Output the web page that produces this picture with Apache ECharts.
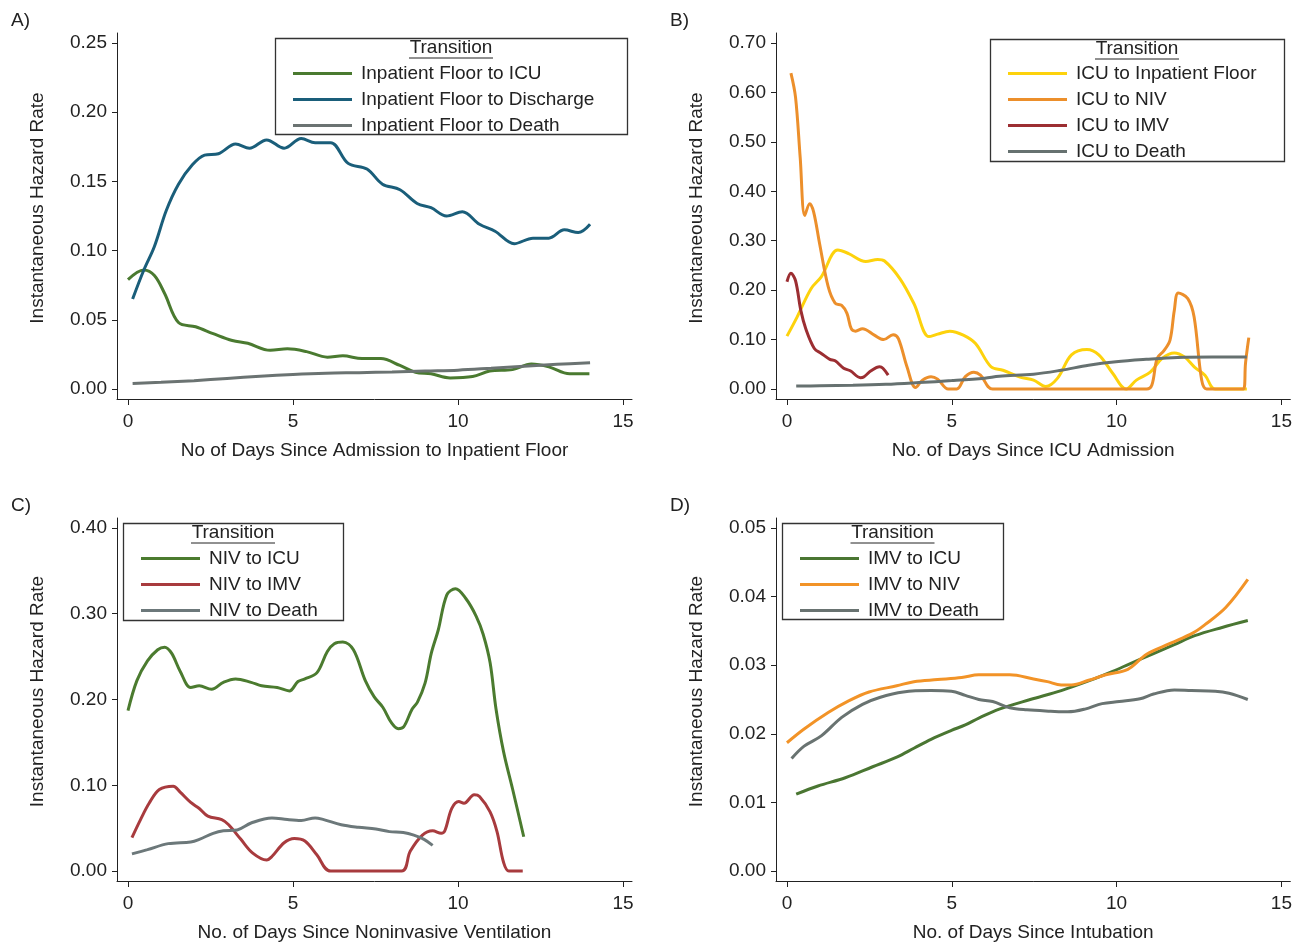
<!DOCTYPE html>
<html>
<head>
<meta charset="utf-8">
<title>Instantaneous Hazard Rates</title>
<script src="https://cdn.jsdelivr.net/npm/echarts@6.0.0/dist/echarts.min.js"></script>
<style>
html, body { margin: 0; padding: 0; background: #fff; }
#main { width: 1295px; height: 943px; }
</style>
</head>
<body>
<div id="main"></div>
<script>
// tick labels
var xTicks = [0, 5, 10, 15];
var yTicksA = [0, 0.05, 0.10, 0.15, 0.20, 0.25];
var yTicksB = [0, 0.10, 0.20, 0.30, 0.40, 0.50, 0.60, 0.70];
var yTicksC = [0, 0.10, 0.20, 0.30, 0.40];
var yTicksD = [0, 0.01, 0.02, 0.03, 0.04, 0.05];

// A) inpatient floor
var floorIcuDays = [0, 0.48, 0.8, 1.11, 1.53, 2.05, 2.58, 3.16, 3.63, 4.31, 4.83, 5.41, 6.04, 6.51, 7.09, 7.66, 8.24, 8.71, 9.18, 9.76, 10.44, 10.96, 11.65, 12.22, 12.75, 13.38, 13.98];
var floorIcuRate = [0.079, 0.086, 0.082, 0.069, 0.048, 0.045, 0.040, 0.035, 0.033, 0.028, 0.029, 0.027, 0.023, 0.024, 0.022, 0.022, 0.017, 0.012, 0.011, 0.008, 0.009, 0.013, 0.014, 0.018, 0.016, 0.011, 0.011];
var floorDischargeDays = [0.14, 0.48, 0.8, 1.16, 1.53, 1.95, 2.32, 2.74, 3.26, 3.68, 4.20, 4.73, 5.25, 5.67, 6.14, 6.67, 7.24, 7.71, 8.24, 8.76, 9.18, 9.65, 10.13, 10.65, 11.12, 11.70, 12.27, 12.75, 13.22, 13.64, 14.0];
var floorDischargeRate = [0.065, 0.086, 0.103, 0.129, 0.148, 0.162, 0.169, 0.170, 0.177, 0.174, 0.180, 0.174, 0.181, 0.178, 0.178, 0.163, 0.159, 0.148, 0.144, 0.134, 0.131, 0.125, 0.128, 0.119, 0.114, 0.105, 0.109, 0.109, 0.115, 0.113, 0.119];
var floorDeathDays = [0.14, 1, 2, 3, 4, 5, 6, 7, 8, 9, 10, 11, 12, 13, 14];
var floorDeathRate = [0.004, 0.0048, 0.006, 0.0076, 0.0092, 0.0105, 0.0114, 0.0118, 0.0123, 0.013, 0.0136, 0.015, 0.0165, 0.0178, 0.019];

// B) ICU
var icuFloorDays = [0, 0.31, 0.73, 1.04, 1.54, 1.87, 2.39, 2.75, 2.96, 3.43, 3.85, 4.31, 4.57, 4.94, 5.35, 5.72, 6.19, 6.55, 7.07, 7.48, 7.85, 8.21, 8.63, 9.10, 9.46, 9.88, 10.29, 10.6, 11.02, 11.38, 11.75, 12.06, 12.37, 12.68, 12.99, 13.95];
var icuFloorRate = [0.107, 0.146, 0.203, 0.227, 0.281, 0.274, 0.258, 0.262, 0.259, 0.223, 0.173, 0.106, 0.111, 0.117, 0.109, 0.092, 0.045, 0.038, 0.024, 0.018, 0.005, 0.022, 0.069, 0.080, 0.069, 0.032, 0.0, 0.018, 0.034, 0.062, 0.073, 0.065, 0.044, 0.028, 0.0, 0.0];
var icuNivDays = [0.12, 0.26, 0.40, 0.54, 0.69, 0.81, 0.99, 1.25, 1.46, 1.66, 1.82, 1.95, 2.08, 2.29, 2.65, 2.93, 3.22, 3.38, 3.64, 3.90, 4.11, 4.37, 4.57, 4.89, 5.15, 5.41, 5.67, 5.87, 6.24, 10.91, 11.07, 11.23, 11.43, 11.62, 11.75, 11.87, 12.16, 12.35, 12.58, 12.73, 13.85, 13.91, 14.01];
var icuNivRate = [0.639, 0.590, 0.469, 0.351, 0.375, 0.358, 0.294, 0.207, 0.174, 0.169, 0.153, 0.122, 0.117, 0.122, 0.109, 0.100, 0.110, 0.102, 0.045, 0.003, 0.018, 0.025, 0.020, 0.0, 0.0, 0.025, 0.034, 0.028, 0.0, 0.0, 0.008, 0.062, 0.077, 0.099, 0.159, 0.194, 0.183, 0.146, 0.018, 0.0, 0.0, 0.052, 0.104];
var icuImvDays = [0, 0.12, 0.26, 0.42, 0.57, 0.83, 1.04, 1.30, 1.46, 1.72, 1.92, 2.23, 2.34, 2.55, 2.81, 2.91, 3.07];
var icuImvRate = [0.217, 0.234, 0.219, 0.159, 0.122, 0.082, 0.072, 0.060, 0.057, 0.042, 0.037, 0.023, 0.025, 0.037, 0.045, 0.042, 0.028];
var icuDeathDays = [0.28, 1, 2, 3, 4, 5, 6, 6.44, 7.48, 8.32, 9.15, 9.98, 10.9, 11.85, 12.9, 13.95];
var icuDeathRate = [0.006, 0.0065, 0.0075, 0.0095, 0.013, 0.017, 0.022, 0.026, 0.030, 0.038, 0.048, 0.055, 0.060, 0.064, 0.065, 0.065];

// C) noninvasive ventilation
var nivIcuDays = [0, 0.27, 0.59, 0.90, 1.11, 1.32, 1.58, 1.90, 2.16, 2.53, 2.89, 3.26, 3.73, 4.05, 4.52, 4.89, 5.15, 5.36, 5.72, 6.04, 6.25, 6.51, 6.83, 7.19, 7.46, 7.72, 7.98, 8.19, 8.35, 8.61, 8.77, 9.0, 9.19, 9.40, 9.66, 9.92, 10.23, 10.55, 10.76, 10.97, 11.15, 11.38, 11.65, 11.99];
var nivIcuRate = [0.187, 0.222, 0.245, 0.258, 0.261, 0.254, 0.233, 0.214, 0.216, 0.212, 0.220, 0.224, 0.220, 0.216, 0.214, 0.210, 0.221, 0.224, 0.231, 0.256, 0.265, 0.267, 0.258, 0.222, 0.203, 0.191, 0.173, 0.166, 0.168, 0.189, 0.197, 0.219, 0.254, 0.281, 0.322, 0.329, 0.318, 0.297, 0.276, 0.243, 0.189, 0.139, 0.096, 0.040];
var nivImvDays = [0.12, 0.38, 0.64, 0.95, 1.37, 1.58, 1.90, 2.16, 2.42, 2.84, 3.05, 3.42, 3.78, 4.20, 4.36, 4.73, 5.04, 5.36, 5.72, 6.14, 8.29, 8.55, 8.92, 9.23, 9.49, 9.60, 9.81, 10.02, 10.18, 10.49, 10.65, 10.97, 11.18, 11.38, 11.54, 11.96];
var nivImvRate = [0.039, 0.060, 0.079, 0.095, 0.099, 0.092, 0.080, 0.073, 0.064, 0.060, 0.054, 0.037, 0.021, 0.013, 0.017, 0.033, 0.038, 0.035, 0.019, 0.0, 0.0, 0.023, 0.042, 0.047, 0.044, 0.047, 0.073, 0.081, 0.079, 0.089, 0.087, 0.069, 0.046, 0.010, 0.0, 0.0];
var nivDeathDays = [0.12, 0.59, 1.22, 1.90, 2.16, 2.58, 2.89, 3.31, 3.73, 4.36, 4.83, 5.25, 5.67, 5.93, 6.46, 6.98, 7.51, 7.92, 8.34, 8.66, 8.97, 9.23];
var nivDeathRate = [0.020, 0.025, 0.032, 0.034, 0.037, 0.044, 0.047, 0.048, 0.056, 0.062, 0.060, 0.059, 0.062, 0.060, 0.054, 0.051, 0.049, 0.046, 0.045, 0.042, 0.037, 0.030];

// D) intubation
var imvIcuDays = [0.28, 0.94, 1.77, 2.60, 3.33, 3.85, 4.37, 4.99, 5.41, 5.82, 6.44, 7.38, 8.32, 9.15, 9.88, 10.40, 11.12, 11.75, 12.37, 13.20, 13.98];
var imvIcuRate = [0.0112, 0.0124, 0.0136, 0.0152, 0.0166, 0.0179, 0.0192, 0.0205, 0.0213, 0.0223, 0.0236, 0.0250, 0.0263, 0.0277, 0.0291, 0.0302, 0.0317, 0.0330, 0.0343, 0.0355, 0.0365];
var imvNivDays = [0, 0.52, 1.25, 1.87, 2.49, 3.33, 3.85, 4.57, 5.30, 5.82, 6.76, 7.48, 7.90, 8.32, 8.63, 9.15, 9.67, 10.34, 10.91, 11.64, 12.32, 12.68, 13.31, 13.98];
var imvNivRate = [0.0187, 0.0207, 0.0231, 0.0248, 0.0261, 0.0270, 0.0276, 0.0279, 0.0282, 0.0286, 0.0286, 0.0280, 0.0276, 0.0271, 0.0271, 0.0278, 0.0286, 0.0294, 0.0316, 0.0332, 0.0347, 0.0359, 0.0384, 0.0425];
var imvDeathDays = [0.14, 0.52, 1.04, 1.66, 2.29, 2.81, 3.53, 4.37, 4.99, 5.41, 5.82, 6.24, 6.76, 7.28, 8.0, 8.52, 9.04, 9.56, 10.08, 10.71, 11.12, 11.75, 12.27, 12.99, 13.41, 13.98];
var imvDeathRate = [0.0164, 0.0182, 0.0197, 0.0224, 0.0243, 0.0253, 0.0261, 0.0263, 0.0262, 0.0256, 0.0250, 0.0247, 0.0238, 0.0235, 0.0233, 0.0232, 0.0236, 0.0244, 0.0247, 0.0251, 0.0258, 0.0264, 0.0263, 0.0262, 0.0259, 0.0250];

var FONT = '"Liberation Sans", Arial, sans-serif';
var INK = '#222';

function pairs(days, rate) {
    var res = [];
    for (var i = 0; i < days.length; i++) {
        res.push([days[i], rate[i]]);
    }
    return res;
}

// layout of the four panels (pixels), y range padded so 0 sits above the axis line
var panels = [
    {letter: 'A)', left: 117, top: 33, xName: 'No of Days Since Admission to Inpatient Floor', yMin: -0.00723, yMax: 0.25723, yTicks: yTicksA,
     box: [275, 38, 352, 96], legendLeft: 293, legendTop: 64},
    {letter: 'B)', left: 776, top: 33, xName: 'No. of Days Since ICU Admission', yMin: -0.0202, yMax: 0.7202, yTicks: yTicksB,
     box: [990, 39, 294, 122], legendLeft: 1008, legendTop: 64},
    {letter: 'C)', left: 117, top: 518, xName: 'No. of Days Since Noninvasive Ventilation', yMin: -0.01156, yMax: 0.41156, yTicks: yTicksC,
     box: [123, 523, 220, 97], legendLeft: 141, legendTop: 549},
    {letter: 'D)', left: 776, top: 518, xName: 'No. of Days Since Intubation', yMin: -0.001445, yMax: 0.051445, yTicks: yTicksD,
     box: [782, 523, 221, 96], legendLeft: 800, legendTop: 549}
];

var seriesDefs = [
    [
        {name: 'Inpatient Floor to ICU', color: '#4a7a30', data: pairs(floorIcuDays, floorIcuRate)},
        {name: 'Inpatient Floor to Discharge', color: '#1a5e7a', data: pairs(floorDischargeDays, floorDischargeRate)},
        {name: 'Inpatient Floor to Death', color: '#6b7372', data: pairs(floorDeathDays, floorDeathRate)}
    ],
    [
        {name: 'ICU to Inpatient Floor', color: '#fdd20c', data: pairs(icuFloorDays, icuFloorRate)},
        {name: 'ICU to NIV', color: '#ec8f2b', data: pairs(icuNivDays, icuNivRate)},
        {name: 'ICU to IMV', color: '#9c2e32', data: pairs(icuImvDays, icuImvRate)},
        {name: 'ICU to Death', color: '#667170', data: pairs(icuDeathDays, icuDeathRate)}
    ],
    [
        {name: 'NIV to ICU', color: '#4b7b2f', data: pairs(nivIcuDays, nivIcuRate)},
        {name: 'NIV to IMV', color: '#a83b3e', data: pairs(nivImvDays, nivImvRate)},
        {name: 'NIV to Death', color: '#6c787a', data: pairs(nivDeathDays, nivDeathRate)}
    ],
    [
        {name: 'IMV to ICU', color: '#4a7632', data: pairs(imvIcuDays, imvIcuRate)},
        {name: 'IMV to NIV', color: '#f29327', data: pairs(imvNivDays, imvNivRate)},
        {name: 'IMV to Death', color: '#697371', data: pairs(imvDeathDays, imvDeathRate)}
    ]
];

var grids = [], xAxes = [], yAxes = [], legends = [], series = [], graphics = [];

panels.forEach(function (p, i) {
    grids.push({left: p.left, top: p.top, width: 515, height: 366});

    xAxes.push({
        type: 'value', gridIndex: i, min: -0.333, max: 15.27,
        name: p.xName, nameLocation: 'middle', nameGap: 42,
        nameTextStyle: {fontSize: 19, color: INK, fontFamily: FONT},
        axisLine: {show: true, onZero: false, lineStyle: {color: INK, width: 1}},
        axisTick: {show: true, length: 6, customValues: xTicks, lineStyle: {color: INK}},
        axisLabel: {customValues: xTicks, margin: 13, fontSize: 19, color: INK, fontFamily: FONT},
        splitLine: {show: false}
    });

    yAxes.push({
        type: 'value', gridIndex: i, min: p.yMin, max: p.yMax,
        name: 'Instantaneous Hazard Rate', nameLocation: 'middle', nameGap: 70,
        nameTextStyle: {fontSize: 19, color: INK, fontFamily: FONT, padding: [0, 0, 0, 16]},
        axisLine: {show: true, onZero: false, lineStyle: {color: INK, width: 1}},
        axisTick: {show: true, length: 5, customValues: p.yTicks, lineStyle: {color: INK}},
        axisLabel: {
            customValues: p.yTicks, margin: 10, fontSize: 19, color: INK, fontFamily: FONT,
            formatter: function (v) { return v.toFixed(2); }
        },
        splitLine: {show: false}
    });

    var names = [];
    seriesDefs[i].forEach(function (s) {
        names.push(s.name);
        series.push({
            name: s.name, type: 'line', xAxisIndex: i, yAxisIndex: i,
            data: s.data, smooth: 0.35, showSymbol: false, symbol: 'none',
            color: s.color,
            lineStyle: {color: s.color, width: 3},
            animation: false
        });
    });

    legends.push({
        orient: 'vertical', left: p.legendLeft, top: p.legendTop, padding: 0,
        icon: 'rect', itemWidth: 59, itemHeight: 3, itemGap: 7,
        selectedMode: false, data: names,
        textStyle: {fontSize: 19, lineHeight: 19, color: INK, fontFamily: FONT, padding: [0, 0, 0, 4]}
    });

    // legend frame with the underlined "Transition" heading
    var b = p.box;
    var cx = b[0] + b[2] / 2;
    graphics.push({
        type: 'rect', shape: {x: b[0] + 0.5, y: b[1] + 0.5, width: b[2], height: b[3]},
        style: {fill: 'none', stroke: '#333', lineWidth: 1.3}, z: 10
    });
    graphics.push({
        type: 'text', x: cx, y: b[1] + 10,
        style: {text: 'Transition', fontSize: 19, fontFamily: FONT, fill: INK, textAlign: 'center', textVerticalAlign: 'middle'}, z: 10
    });
    graphics.push({
        type: 'line', shape: {x1: cx - 42, y1: b[1] + 20, x2: cx + 42, y2: b[1] + 20},
        style: {stroke: INK, lineWidth: 1}, z: 10
    });
    graphics.push({
        type: 'text', left: p.left - 106, top: p.top - 22,
        style: {text: p.letter, fontSize: 19, fontFamily: FONT, fill: INK}, z: 10
    });
});

var myChart = echarts.init(document.getElementById('main'));
var option = {
    backgroundColor: '#fff',
    animation: false,
    textStyle: {fontFamily: FONT},
    grid: grids,
    xAxis: xAxes,
    yAxis: yAxes,
    legend: legends,
    series: series,
    graphic: graphics
};
myChart.setOption(option);
window.addEventListener('resize', function () {
    myChart.resize();
});
</script>
</body>
</html>
